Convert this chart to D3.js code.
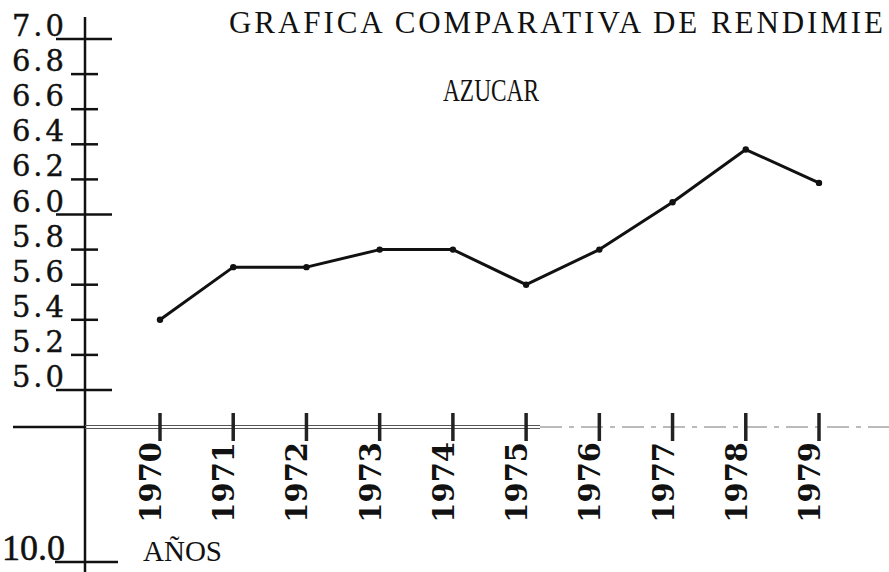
<!DOCTYPE html>
<html>
<head>
<meta charset="utf-8">
<script src="https://cdn.jsdelivr.net/npm/d3@7"></script>
<style>
  body { margin: 0; background: #fff; }
  svg { display: block; }
  text { fill: #111; }
</style>
</head>
<body>
<svg width="889" height="572"></svg>
<script>
var width = 889;
var height = 572;

var years = [1970, 1971, 1972, 1973, 1974, 1975, 1976, 1977, 1978, 1979];
var rendimiento = [5.4, 5.7, 5.7, 5.8, 5.8, 5.6, 5.8, 6.07, 6.37, 6.18];
var yTicks = [5.0, 5.2, 5.4, 5.6, 5.8, 6.0, 6.2, 6.4, 6.6, 6.8, 7.0];
var majorTicks = [5.0, 6.0, 7.0];

var axisX = 85;
var baseY = 427;

var xScale = d3.scaleLinear()
  .domain([1970, 1979])
  .range([160, 819]);

var yScale = d3.scaleLinear()
  .domain([5.0, 7.0])
  .range([390, 39]);

var svg = d3.select('svg');

// vertical axis
svg.append('line')
  .attr('x1', axisX).attr('x2', axisX)
  .attr('y1', 17).attr('y2', height)
  .attr('stroke', '#111')
  .attr('stroke-width', 2.5);

// y ticks
svg.selectAll('.ytick')
  .data(yTicks)
  .enter()
  .append('line')
  .attr('class', 'ytick')
  .attr('x1', d => majorTicks.indexOf(d) >= 0 ? 56 : 71)
  .attr('x2', d => majorTicks.indexOf(d) >= 0 ? 112 : 98)
  .attr('y1', d => yScale(d))
  .attr('y2', d => yScale(d))
  .attr('stroke', '#111')
  .attr('stroke-width', 2.5);

svg.selectAll('.ylabel')
  .data(yTicks)
  .enter()
  .append('text')
  .attr('class', 'ylabel')
  .attr('x', 67)
  .attr('y', d => yScale(d) - 3)
  .attr('text-anchor', 'end')
  .style('font-family', 'DejaVu Serif')
  .style('font-size', '29px')
  .style('letter-spacing', '3px')
  .style('stroke', '#111')
  .style('stroke-width', 0.4)
  .text(d => d.toFixed(1));

// bottom tick 10.0
svg.append('line')
  .attr('x1', 55).attr('x2', 118)
  .attr('y1', 562).attr('y2', 562)
  .attr('stroke', '#111')
  .attr('stroke-width', 2.5);

svg.append('text')
  .attr('x', 2)
  .attr('y', 560)
  .style('font-family', 'Liberation Serif')
  .style('font-size', '36px')
  .style('stroke', '#111')
  .style('stroke-width', 0.5)
  .text('10.0');

svg.append('text')
  .attr('x', 143)
  .attr('y', 561)
  .style('font-family', 'Liberation Serif')
  .style('font-size', '29px')
  .text('AÑOS');

// horizontal base line
svg.append('line')
  .attr('x1', 13).attr('x2', axisX)
  .attr('y1', baseY).attr('y2', baseY)
  .attr('stroke', '#111')
  .attr('stroke-width', 2.5);

svg.append('line')
  .attr('x1', axisX).attr('x2', 540)
  .attr('y1', baseY - 1.5).attr('y2', baseY - 1.5)
  .attr('stroke', '#555')
  .attr('stroke-width', 1);

svg.append('line')
  .attr('x1', axisX).attr('x2', 540)
  .attr('y1', baseY + 1.5).attr('y2', baseY + 1.5)
  .attr('stroke', '#555')
  .attr('stroke-width', 1);

svg.append('line')
  .attr('x1', 540).attr('x2', width)
  .attr('y1', baseY).attr('y2', baseY)
  .attr('stroke', '#777')
  .attr('stroke-width', 1.2)
  .attr('stroke-dasharray', '22,7,5,7');

// year ticks
svg.selectAll('.xtick')
  .data(years)
  .enter()
  .append('line')
  .attr('class', 'xtick')
  .attr('x1', d => xScale(d))
  .attr('x2', d => xScale(d))
  .attr('y1', baseY - 14)
  .attr('y2', baseY + 14)
  .attr('stroke', '#222')
  .attr('stroke-width', 3.5);

svg.selectAll('.xlabel')
  .data(years)
  .enter()
  .append('text')
  .attr('class', 'xlabel')
  .attr('transform', d => 'translate(' + (xScale(d) + 1) + ',' + 442 + ') rotate(-90)')
  .attr('text-anchor', 'end')
  .style('font-family', 'DejaVu Serif')
  .style('font-weight', 'bold')
  .style('font-size', '29px')
  .text(d => d);

// data line
var line = d3.line()
  .x((d, i) => xScale(years[i]))
  .y(d => yScale(d));

svg.append('path')
  .datum(rendimiento)
  .attr('d', line)
  .attr('fill', 'none')
  .attr('stroke', '#111')
  .attr('stroke-width', 3)
  .attr('stroke-linejoin', 'round');

svg.selectAll('.pt')
  .data(rendimiento)
  .enter()
  .append('circle')
  .attr('class', 'pt')
  .attr('cx', (d, i) => xScale(years[i]))
  .attr('cy', d => yScale(d))
  .attr('r', 3.2)
  .attr('fill', '#111');

// titles
svg.append('text')
  .attr('x', 229)
  .attr('y', 33)
  .attr('textLength', 654)
  .attr('lengthAdjust', 'spacing')
  .style('font-family', 'Liberation Serif')
  .style('font-size', '31px')
  .text('GRAFICA COMPARATIVA DE RENDIMIE');

svg.append('text')
  .attr('x', 443)
  .attr('y', 101)
  .attr('textLength', 96)
  .attr('lengthAdjust', 'spacingAndGlyphs')
  .style('font-family', 'Liberation Serif')
  .style('font-size', '31px')
  .text('AZUCAR');
</script>
</body>
</html>
